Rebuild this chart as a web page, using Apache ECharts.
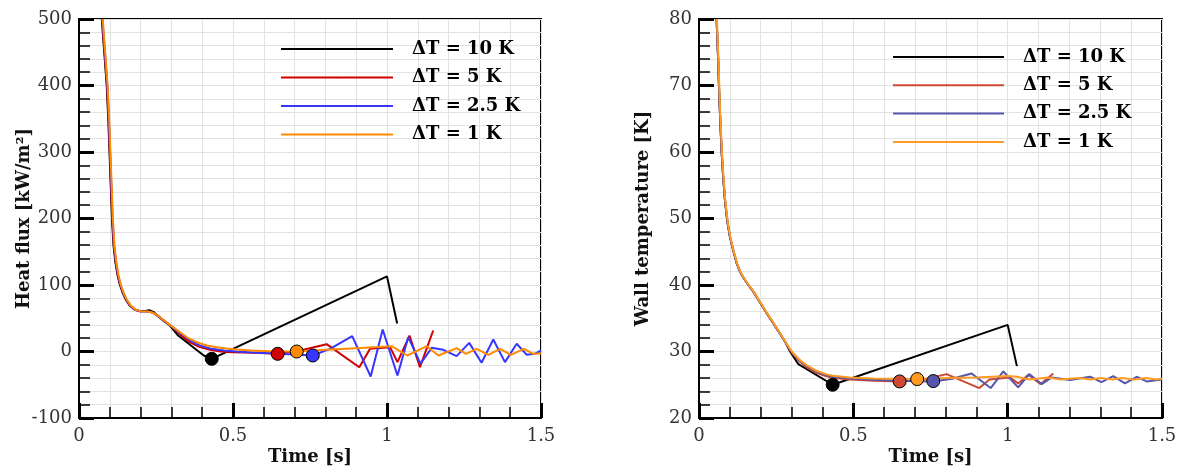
<!DOCTYPE html>
<html>
<head>
<meta charset="utf-8">
<script src="https://cdn.jsdelivr.net/npm/echarts@6/dist/echarts.min.js"></script>
<style>
html,body{margin:0;padding:0;background:#fff;}
#chart{width:1181px;height:468px;}
</style>
</head>
<body>
<div id="chart"></div>
<script>
// ---------- DATA ----------
const seriesNames = ['ΔT = 10 K', 'ΔT = 5 K', 'ΔT = 2.5 K', 'ΔT = 1 K'];
const xTickLabels = ['0', '0.5', '1', '1.5'];

// Left panel: heat flux [kW/m²] vs time [s]
const hf10_t = [0.074,0.082,0.090,0.095,0.099,0.103,0.107,0.112,0.118,0.125,0.133,0.142,0.152,0.165,0.180,0.198,0.215,0.228,0.243,0.258,0.275,0.295,0.322,0.405,0.431,1.000,1.033];
const hf10_q = [500,450,400,350,300,250,200,160,135,115,100,88,78,69,63,60.5,61,62,59,53,46,39,24,-6,-11,113,42];

const hf5_t = [0.075,0.083,0.091,0.096,0.100,0.104,0.108,0.113,0.119,0.126,0.134,0.143,0.153,0.166,0.181,0.199,0.216,0.230,0.245,0.260,0.277,0.297,0.330,0.360,0.390,0.425,0.460,0.500,0.570,0.645,0.718,0.804,0.910,0.945,1.010,1.034,1.073,1.107,1.150];
const hf5_q = [500,450,400,350,300,250,200,160,135,115,100,88,78,69,63,60.5,60.5,60,57,52,46,39,25,14,7,2.5,0,-1,-2,-3.5,1.5,11,-23.6,4,6.5,-16,24,-23.6,31.6];

const hf25_t = [0.076,0.084,0.092,0.097,0.101,0.105,0.109,0.114,0.120,0.127,0.135,0.144,0.154,0.167,0.182,0.199,0.218,0.232,0.248,0.265,0.280,0.297,0.330,0.360,0.393,0.430,0.470,0.512,0.560,0.620,0.700,0.759,0.815,0.887,0.947,0.986,1.034,1.069,1.109,1.145,1.183,1.226,1.267,1.307,1.345,1.383,1.421,1.454,1.480,1.500];
const hf25_q = [500,450,400,350,300,250,200,160,135,115,100,88,78,69,63,60.5,60.2,59.5,56.5,50,45,39,27,17,9,4,1.5,0,-1.5,-2.5,-4.5,-6,4,23,-37.6,33,-36,21.5,-18.5,5.5,2.5,-7,13,-17,18,-16,11.6,-5,-3.5,1.5];

const hf1_t = [0.077,0.085,0.093,0.098,0.102,0.106,0.110,0.115,0.121,0.128,0.136,0.145,0.155,0.168,0.183,0.200,0.220,0.235,0.250,0.270,0.295,0.328,0.355,0.382,0.415,0.447,0.480,0.512,0.560,0.620,0.707,0.800,0.900,1.000,1.015,1.066,1.129,1.167,1.226,1.256,1.291,1.329,1.367,1.402,1.445,1.475,1.500];
const hf1_q = [500,450,400,350,300,250,200,160,135,115,100,88,78,69,63,60.5,60,59,56,49,40,29,20,14,9,6.5,4.5,3,1.5,0.5,0,2.5,5,7.5,8,-6,8,-6,5,-3.5,4,-5,4,-5,4,-3.5,-3];

// Onset points (markers) on the heat-flux panel
const hfMark_t = [0.431, 0.645, 0.759, 0.707];
const hfMark_q = [-11, -3.5, -6, 0];

// Right panel: wall temperature [K] vs time [s]
const tw10_t = [0.057,0.062,0.066,0.070,0.073,0.078,0.084,0.092,0.100,0.111,0.122,0.133,0.144,0.160,0.176,0.195,0.219,0.240,0.262,0.280,0.295,0.322,0.433,1.000,1.030];
const tw10_T = [80,74,68,63.5,60.3,56.5,52.8,49.5,47.3,45.2,43.3,42,41.1,40,39,37.6,35.8,34.3,32.7,31.4,30.0,28.1,25.0,34.0,27.8];

const tw5_t = [0.057,0.062,0.066,0.070,0.073,0.078,0.084,0.092,0.100,0.111,0.122,0.133,0.144,0.160,0.176,0.195,0.219,0.240,0.262,0.280,0.295,0.310,0.327,0.350,0.381,0.410,0.435,0.489,0.565,0.650,0.720,0.802,0.908,0.941,1.007,1.034,1.067,1.107,1.148];
const tw5_T = [80,74,68,63.5,60.3,56.5,52.8,49.5,47.3,45.2,43.3,42,41.1,40,39,37.6,35.8,34.3,32.7,31.4,30.2,29.3,28.5,27.6,26.8,26.3,26.0,25.8,25.6,25.5,25.7,26.6,24.5,25.8,26.1,25.2,26.5,25.1,26.7];

const tw25_t = [0.057,0.062,0.066,0.070,0.073,0.078,0.084,0.092,0.100,0.111,0.122,0.133,0.144,0.160,0.176,0.195,0.219,0.240,0.262,0.280,0.295,0.310,0.327,0.350,0.381,0.410,0.435,0.489,0.565,0.650,0.759,0.820,0.883,0.945,0.986,1.034,1.070,1.110,1.143,1.202,1.267,1.304,1.342,1.380,1.418,1.450,1.500];
const tw25_T = [80,74,68,63.5,60.3,56.5,52.8,49.5,47.3,45.2,43.3,42,41.1,40,39,37.6,35.8,34.3,32.7,31.4,30.25,29.4,28.6,27.8,27.0,26.5,26.2,25.95,25.75,25.6,25.5,25.9,26.7,24.5,27.0,24.6,26.6,25.1,26.1,25.7,26.2,25.4,26.3,25.2,26.2,25.5,25.8];

const tw1_t = [0.058,0.063,0.067,0.071,0.074,0.079,0.085,0.093,0.101,0.112,0.123,0.134,0.145,0.161,0.177,0.196,0.220,0.241,0.263,0.281,0.296,0.310,0.327,0.350,0.381,0.410,0.435,0.489,0.565,0.640,0.707,0.800,0.900,1.000,1.030,1.070,1.130,1.170,1.230,1.270,1.300,1.340,1.370,1.410,1.450,1.480,1.500];
const tw1_T = [80,74,68,63.5,60.3,56.5,52.8,49.5,47.3,45.2,43.3,42,41.1,40,39,37.6,35.8,34.3,32.7,31.4,30.3,29.5,28.7,27.9,27.1,26.6,26.35,26.1,25.95,25.9,25.85,26.0,26.1,26.3,26.2,25.8,26.1,25.8,26.0,25.8,26.0,25.8,26.0,25.8,26.0,25.8,25.9];

const twMark_t = [0.433, 0.650, 0.759, 0.707];
const twMark_T = [25.0, 25.5, 25.55, 25.85];

// ---------- STYLE ----------
const leftColors = ['#000000', '#d00000', '#3636ff', '#ff8a00'];
const rightColors = ['#000000', '#cc4a33', '#5656ad', '#ff9a22'];
const FONT = "'DejaVu Serif', serif";

const zip = (a, b) => a.map((v, i) => [v, b[i]]);

function xAxis(gi) {
  return {
    gridIndex: gi, type: 'value', min: 0, max: 1.5, interval: 0.5,
    axisLine: { show: true, onZero: false, lineStyle: { color: '#000', width: 2 } },
    axisTick: { show: true, inside: true, length: 15, lineStyle: { color: '#000', width: 3 } },
    minorTick: { show: true, splitNumber: 5, length: 11, lineStyle: { color: '#000', width: 1.5 } },
    splitLine: { show: true, lineStyle: { color: '#e2e2e2', width: 1 } },
    minorSplitLine: { show: true, lineStyle: { color: '#e2e2e2', width: 1 } },
    axisLabel: { fontFamily: FONT, fontSize: 18, color: '#333', margin: 9,
      formatter: v => xTickLabels[Math.round(v / 0.5)] },
    name: 'Time [s]', nameLocation: 'middle', nameGap: 30, nameMoveOverlap: false,
    nameTextStyle: { fontFamily: FONT, fontWeight: 'bold', fontSize: 18, color: '#111' }
  };
}
function yAxis(gi, min, max, interval, name) {
  return {
    gridIndex: gi, type: 'value', min, max, interval,
    axisLine: { show: true, onZero: false, lineStyle: { color: '#000', width: 2 } },
    axisTick: { show: true, inside: true, length: 15, lineStyle: { color: '#000', width: 3 } },
    minorTick: { show: true, splitNumber: 5, length: 11, lineStyle: { color: '#000', width: 1.5 } },
    splitLine: { show: true, lineStyle: { color: '#e2e2e2', width: 1 } },
    minorSplitLine: { show: true, lineStyle: { color: '#e2e2e2', width: 1 } },
    axisLabel: { fontFamily: FONT, fontSize: 18, color: '#333', margin: 7 },
    name, nameLocation: 'middle', nameGap: gi === 0 ? 46 : 47, nameMoveOverlap: false,
    nameTextStyle: { fontFamily: FONT, fontWeight: 'bold', fontSize: 18, color: '#111' }
  };
}
function lineSeries(name, t, v, color, gi) {
  return {
    type: 'line', name, xAxisIndex: gi, yAxisIndex: gi,
    data: zip(t, v), symbol: 'none', showSymbol: false, legendIcon: 'rect',
    lineStyle: { color, width: 2 }, itemStyle: { color },
    clip: true, z: 3
  };
}
function markerSeries(t, v, colors, gi) {
  return {
    type: 'scatter', xAxisIndex: gi, yAxisIndex: gi, symbolSize: 13, z: 5,
    itemStyle: { opacity: 1 },
    data: t.map((x, i) => ({ value: [x, v[i]],
      itemStyle: { color: colors[i], borderColor: '#000', borderWidth: 1, opacity: 1 } }))
  };
}
const rightName = n => 'R ' + n;
const legendText = { fontFamily: FONT, fontWeight: 'bold', fontSize: 18, lineHeight: 18, color: '#000', padding: [0, 0, 0, 14] };

const option = {
  animation: false,
  backgroundColor: '#fff',
  textStyle: { fontFamily: FONT },
  grid: [
    { left: 79, top: 19, width: 462, height: 399, outerBoundsMode: 'none', containLabel: false,
      show: true, borderColor: '#000', borderWidth: 2, backgroundColor: 'transparent' },
    { left: 699, top: 19, width: 463, height: 399, outerBoundsMode: 'none', containLabel: false,
      show: true, borderColor: '#000', borderWidth: 2, backgroundColor: 'transparent' }
  ],
  xAxis: [xAxis(0), xAxis(1)],
  yAxis: [yAxis(0, -100, 500, 100, 'Heat flux [kW/m²]'), yAxis(1, 20, 80, 10, 'Wall temperature [K]')],
  legend: [
    { left: 275, top: 35, orient: 'vertical', itemWidth: 112, itemHeight: 2, itemGap: 10.5,
      data: seriesNames, selectedMode: false, textStyle: legendText },
    { left: 887, top: 43, orient: 'vertical', itemWidth: 111, itemHeight: 2, itemGap: 10.3,
      data: seriesNames.map(rightName), selectedMode: false,
      formatter: n => n.replace(/^R /, ''), textStyle: legendText }
  ],
  series: [
    lineSeries(seriesNames[0], hf10_t, hf10_q, leftColors[0], 0),
    lineSeries(seriesNames[1], hf5_t, hf5_q, leftColors[1], 0),
    lineSeries(seriesNames[2], hf25_t, hf25_q, leftColors[2], 0),
    lineSeries(seriesNames[3], hf1_t, hf1_q, leftColors[3], 0),
    markerSeries(hfMark_t, hfMark_q, leftColors, 0),
    lineSeries(rightName(seriesNames[0]), tw10_t, tw10_T, rightColors[0], 1),
    lineSeries(rightName(seriesNames[1]), tw5_t, tw5_T, rightColors[1], 1),
    lineSeries(rightName(seriesNames[2]), tw25_t, tw25_T, rightColors[2], 1),
    lineSeries(rightName(seriesNames[3]), tw1_t, tw1_T, rightColors[3], 1),
    markerSeries(twMark_t, twMark_T, rightColors, 1)
  ]
};
const chart = echarts.init(document.getElementById('chart'), null, { renderer: 'canvas' });
chart.setOption(option);
</script>
</body>
</html>
